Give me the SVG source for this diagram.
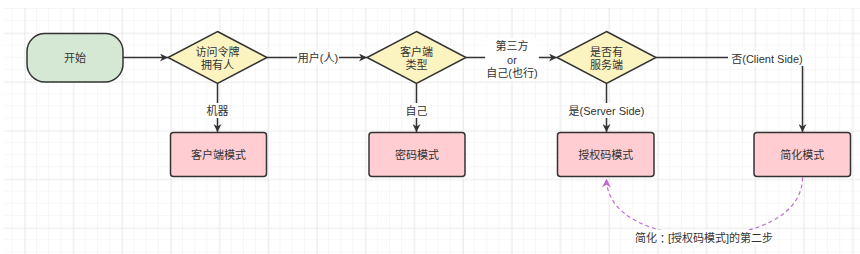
<svg xmlns="http://www.w3.org/2000/svg" width="860" height="254" viewBox="0 0 860 254">
<defs>
<pattern id="minor" x="0.5" y="9" width="12.17" height="12.17" patternUnits="userSpaceOnUse">
<path d="M12.17 0 V12.17 M0 12.17 H12.17" fill="none" stroke="#efefef" stroke-width="1"/>
</pattern>
<pattern id="major" x="-24" y="33.3" width="48.7" height="48.7" patternUnits="userSpaceOnUse">
<path d="M0 0 V48.7 M0 0 H48.7" fill="none" stroke="#e3e3e3" stroke-width="1.2"/>
</pattern>
<marker id="arr" viewBox="0 0 10 10" refX="10" refY="5" markerWidth="8" markerHeight="8" markerUnits="userSpaceOnUse" orient="auto">
<path d="M0 0 L10 5 L0 10 L3 5 Z" fill="#333"/>
</marker>
<marker id="parr" viewBox="0 0 10 10" refX="10" refY="5" markerWidth="9" markerHeight="9" markerUnits="userSpaceOnUse" orient="auto">
<path d="M0 0 L10 5 L0 10 L3 5 Z" fill="#c36ad6"/>
</marker>
</defs>
<style>
text{font-family:"Liberation Sans","Noto Sans CJK SC",sans-serif;font-size:11px;fill:#333;text-anchor:middle;dominant-baseline:central}
.edge{fill:none;stroke:#333;stroke-width:1.5}
.lbg{fill:#fff}
.start{fill:#d5e8d4;stroke:#333;stroke-width:1.5}
.dec{fill:#fcf4c0;stroke:#333;stroke-width:1.5}
.mode{fill:#ffcdd2;stroke:#333;stroke-width:1.5}
.tc{font-family:"Noto Sans CJK TC",sans-serif}
</style>
<rect width="860" height="254" fill="#fff"/>
<rect x="4" y="8" width="856" height="246" fill="url(#minor)"/>
<rect x="4" y="8" width="856" height="246" fill="url(#major)"/>

<g id="connectors">
<path class="edge" d="M123 57.5 H168" marker-end="url(#arr)"/>
<path class="edge" d="M217.5 83.5 V132" marker-end="url(#arr)"/>
<rect class="lbg" x="205" y="103" width="25" height="15"/>
<text x="217.5" y="110.5">机器</text>
<path class="edge" d="M267 57.5 H367" marker-end="url(#arr)"/>
<rect class="lbg" x="297" y="50" width="42" height="15"/>
<text x="318" y="57.5">用户(人)</text>
<path class="edge" d="M416.5 83.5 V132" marker-end="url(#arr)"/>
<rect class="lbg" x="404" y="103" width="25" height="15"/>
<text x="416.5" y="110.5">自己</text>
<path class="edge" d="M466 57.5 H557" marker-end="url(#arr)"/>
<rect class="lbg" x="485" y="38" width="54" height="43"/>
<text x="512" y="46">第三方</text>
<text x="512" y="59.5">or</text>
<text x="512" y="73">自己(也行)</text>
<path class="edge" d="M606.5 83.5 V132" marker-end="url(#arr)"/>
<rect class="lbg" x="568" y="103" width="78" height="15"/>
<text x="606.5" y="110.5">是(Server Side)</text>
<path class="edge" d="M656 57.5 H802.5 V132" marker-end="url(#arr)"/>
<rect class="lbg" x="728" y="51" width="78" height="15"/>
<text x="767" y="59">否(Client Side)</text>
<path d="M802.5 177.5 C802.5 255 606.5 255 606.5 178.5" fill="none" stroke="#c36ad6" stroke-width="1.2" stroke-dasharray="4 3" marker-end="url(#parr)"/>
<rect class="lbg" x="636" y="230" width="136" height="15"/>
<text x="704" y="237.5">简化<tspan class="tc">：</tspan>[授权码模式]的第二步</text>
</g>

<g id="start">
<rect class="start" x="27" y="33.5" width="96" height="48.5" rx="18"/>
<text x="75" y="58">开始</text>
</g>
<g id="owner">
<polygon class="dec" points="217.5,31.5 267,57.5 217.5,83.5 168,57.5"/>
<text x="217.5" y="52">访问令牌</text>
<text x="217.5" y="65">拥有人</text>
</g>
<g id="clienttype">
<polygon class="dec" points="416.5,31.5 466,57.5 416.5,83.5 367,57.5"/>
<text x="416.5" y="52">客户端</text>
<text x="416.5" y="65">类型</text>
</g>
<g id="server">
<polygon class="dec" points="606.5,31.5 656,57.5 606.5,83.5 557,57.5"/>
<text x="606.5" y="52">是否有</text>
<text x="606.5" y="65">服务端</text>
</g>
<g id="client-mode">
<rect class="mode" x="170.5" y="132.5" width="96" height="44" rx="3"/>
<text x="218.5" y="155">客户端模式</text>
</g>
<g id="password-mode">
<rect class="mode" x="369" y="132.5" width="96" height="44" rx="3"/>
<text x="417" y="155">密码模式</text>
</g>
<g id="code-mode">
<rect class="mode" x="557.5" y="132.5" width="96.5" height="44" rx="3"/>
<text x="605.7" y="155">授权码模式</text>
</g>
<g id="implicit-mode">
<rect class="mode" x="754" y="132.5" width="96.5" height="44" rx="3"/>
<text x="802.3" y="155">简化模式</text>
</g>
</svg>
